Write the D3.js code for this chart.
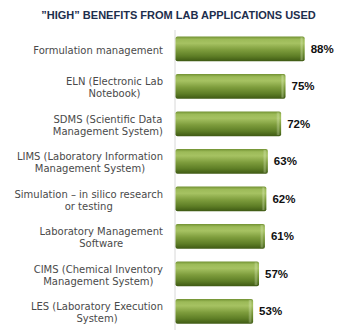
<!DOCTYPE html>
<html><head><meta charset="utf-8">
<script src="https://cdn.jsdelivr.net/npm/d3@7"></script>
<style>body{margin:0;background:#fff}svg{display:block}</style>
</head><body>
<script>
const title = "”HIGH” BENEFITS FROM LAB APPLICATIONS USED";
const categories = [
  ["Formulation management"],
  ["ELN (Electronic Lab", "Notebook)"],
  ["SDMS (Scientific Data", "Management System)"],
  ["LIMS (Laboratory Information", "Management System)"],
  ["Simulation – in silico research", "or testing"],
  ["Laboratory Management", "Software"],
  ["CIMS (Chemical Inventory", "Management System)"],
  ["LES (Laboratory Execution", "System)"]
];
const values = [88, 75, 72, 63, 62, 61, 57, 53];

const W = 338, H = 332;
const svg = d3.select("body").append("svg").attr("width", W).attr("height", H);

const defs = svg.append("defs");
const g = defs.append("linearGradient").attr("id", "barg").attr("x1", 0).attr("y1", 0).attr("x2", 0).attr("y2", 1);
[[0,"#6f8f30"],[0.12,"#9cba58"],[0.28,"#a6c262"],[0.55,"#7d9c3c"],[0.8,"#5e7e26"],[1,"#3f5a14"]]
  .forEach(([o,c]) => g.append("stop").attr("offset", o).attr("stop-color", c));
const gc = defs.append("linearGradient").attr("id", "capg").attr("x1", 0).attr("y1", 0).attr("x2", 1).attr("y2", 0);
[[0,"rgba(255,255,255,0)"],[0.5,"rgba(230,245,200,0.35)"],[1,"rgba(255,255,255,0)"]]
  .forEach(([o,c]) => gc.append("stop").attr("offset", o).attr("stop-color", c));

const x = d3.scaleLinear().domain([0, 100]).range([175, 322.4]);
const y = d3.scaleBand().domain(d3.range(categories.length)).range([30, 330]).paddingInner(0.34).paddingOuter(0.17);

svg.append("text").attr("x", 178.5).attr("y", 19).attr("text-anchor", "middle")
  .attr("font-family", "Liberation Sans, Arial, sans-serif").attr("font-weight", "bold")
  .attr("font-size", 11).attr("fill", "#1d2e4d").text(title);

svg.append("line").attr("x1", 175).attr("x2", 175).attr("y1", 30).attr("y2", 330)
  .attr("stroke", "#d8d8d8").attr("stroke-width", 1);

const rows = svg.selectAll("g.row").data(values).join("g").attr("class", "row");
rows.append("rect").attr("x", x(0) + 0.5).attr("y", (d,i) => y(i))
  .attr("width", d => x(d) - x(0) - 0.5).attr("height", y.bandwidth())
  .attr("rx", 2).attr("fill", "url(#barg)");
rows.append("rect").attr("x", d => x(d) - 5).attr("y", (d,i) => y(i) + 1)
  .attr("width", 4).attr("height", y.bandwidth() - 2).attr("fill", "url(#capg)");
rows.append("text").attr("x", d => x(d) + 6).attr("y", (d,i) => y(i) + y.bandwidth()/2 + 4)
  .attr("font-family", "Liberation Sans, Arial, sans-serif").attr("font-weight", "bold")
  .attr("font-size", 11.5).attr("fill", "#111").text(d => d + "%");

const lh = 12;
categories.forEach((lines, i) => {
  const cy = y(i) + y.bandwidth()/2;
  const t = svg.append("text").attr("font-family", "DejaVu Sans, Verdana, sans-serif")
    .attr("font-size", 10).attr("fill", "#4a4a4a").attr("text-anchor", "middle");
  const spans = lines.map((l, k) => t.append("tspan").attr("y", cy + 5 + (k - (lines.length-1)/2) * lh).text(l));
  const maxW = d3.max(spans, s => s.node().getComputedTextLength());
  spans.forEach(s => s.attr("x", 163 - maxW/2));
});
</script>
</body></html>
